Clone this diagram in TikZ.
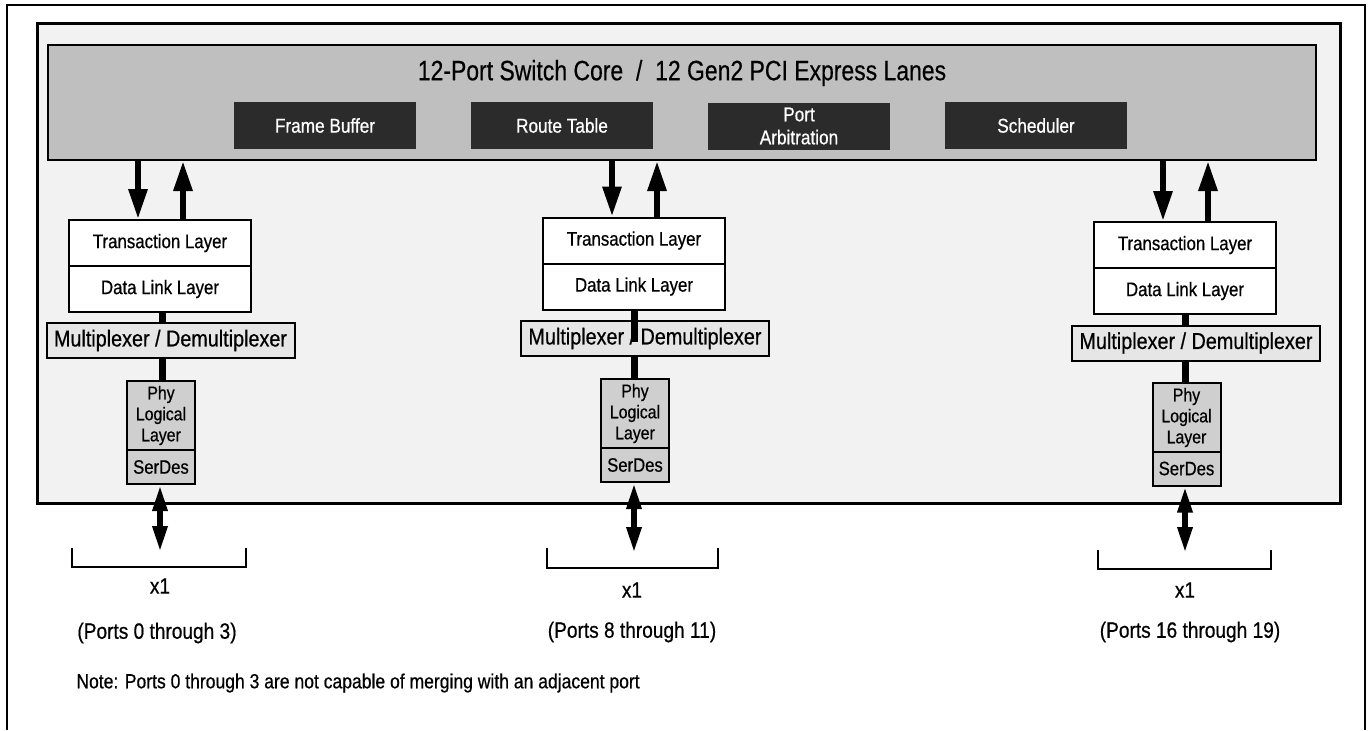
\documentclass[tikz,border=0pt]{standalone}
\usepackage{fontspec}
\setmainfont{Liberation Sans}[FakeStretch=0.86,FakeBold=0.6]
\newfontfamily\titlefont{Liberation Sans}[FakeStretch=0.82,FakeBold=0.4]
\usetikzlibrary{arrows.meta}
\definecolor{bgin}{HTML}{F2F2F2}
\definecolor{corec}{HTML}{BFBFBF}
\definecolor{darkc}{HTML}{2B2B2B}
\definecolor{muxc}{HTML}{E6E6E6}
\definecolor{phyc}{HTML}{CFCFCF}
\begin{document}
\begin{tikzpicture}[x=0.5pt,y=-0.5pt,
  box/.style={draw,line width=1pt,inner sep=0pt,align=center},
  tlbox/.style={box,fill=white,minimum width=91pt,minimum height=23pt,font=\fontsize{9.8}{11}\selectfont},
  muxbox/.style={box,fill=muxc,minimum width=124pt,minimum height=17.5pt,font=\fontsize{11.5}{13}\selectfont},
  phybox/.style={box,fill=phyc,minimum width=34pt,minimum height=34.5pt,font=\fontsize{9.2}{10.5}\selectfont},
  sdbox/.style={box,fill=phyc,minimum width=34pt,minimum height=17pt,font=\fontsize{9.7}{11}\selectfont},
  darkbox/.style={fill=darkc,text=white,inner sep=0pt,minimum width=91pt,minimum height=23.5pt,align=center,font=\fontsize{10}{11.5}\selectfont},
  busarr/.style={line width=3pt,-{Triangle[length=15pt,width=9pt]}},
  conn/.style={line width=3.5pt},
  dblarr/.style={line width=3pt,{Triangle[length=13pt,width=7pt]}-{Triangle[length=13pt,width=7pt]}},
  lbl/.style={inner sep=0pt,font=\fontsize{11.1}{12}\selectfont},
  brk/.style={line width=1pt}
]
\useasboundingbox (0,0) rectangle (1371,730);
% outer frame (open at bottom)
\draw[line width=1pt] (7,730) -- (7,5) -- (1365,5) -- (1365,730);
% chip area
\draw[line width=1.5pt,fill=bgin] (37,23) rectangle (1340,503);
% core
\node[box,fill=corec,minimum width=634pt,minimum height=57.5pt] (core) at (682,102.5) {};
\node[inner sep=0pt,font=\titlefont\fontsize{14}{16}\selectfont] (title) at (682,73) {12-Port Switch Core \ / \ 12 Gen2 PCI Express Lanes};
\node[darkbox] (fb) at (325,125.5) {Frame Buffer};
\node[darkbox] (rt) at (562,125.5) {Route Table};
\node[darkbox] (pa) at (799,126) {Port\\Arbitration};
\node[darkbox] (sc) at (1036,125.5) {Scheduler};

% ---------- left stack
\node[tlbox] (tl1) at (160,243) {Transaction Layer};
\node[tlbox] (dl1) at (160,289) {Data Link Layer};
\node[muxbox] (mx1) at (170.5,340.5) {Multiplexer / Demultiplexer};
\node[phybox] (ph1) at (161,415.5) {Phy\\Logical\\Layer};
\node[sdbox] (sd1) at (161,467) {SerDes};
\coordinate (d1) at (138,0);
\coordinate (u1) at (183,0);
\coordinate (c1) at (162,0);
\draw[busarr] (core.south -| d1) -- (tl1.north -| d1);
\draw[busarr] (tl1.north -| u1) -- (core.south -| u1);
\draw[conn] (dl1.south -| c1) -- (mx1.north -| c1);
\draw[conn] (mx1.south -| c1) -- (ph1.north -| c1);
\coordinate (e1) at (160,552);
\draw[dblarr] (sd1.south -| e1) -- (e1);
\draw[brk] (72,548) -- (72,567) -- (246,567) -- (246,548);
\node[lbl] (x1a) at (160,586) {x1};
\node[lbl] (p1) at (157,633) {(Ports 0 through 3)};

% ---------- middle stack
\node[tlbox] (tl2) at (634,240.5) {Transaction Layer};
\node[tlbox] (dl2) at (634,286.5) {Data Link Layer};
\node[muxbox] (mx2) at (645,338.5) {Multiplexer / Demultiplexer};
\node[phybox] (ph2) at (635,413.5) {Phy\\Logical\\Layer};
\node[sdbox] (sd2) at (635,465) {SerDes};
\coordinate (d2) at (612,0);
\coordinate (u2) at (657,0);
\coordinate (c2) at (634,0);
\coordinate (c2m) at (634,342);
\draw[busarr] (core.south -| d2) -- (tl2.north -| d2);
\draw[busarr] (tl2.north -| u2) -- (core.south -| u2);
\draw[conn] (dl2.south -| c2m) -- (c2m);
\draw[conn] (mx2.south -| c2) -- (ph2.north -| c2);
\coordinate (e2) at (634,553);
\draw[dblarr] (sd2.south -| e2) -- (e2);
\draw[brk] (547,548) -- (547,568) -- (718,568) -- (718,548);
\node[lbl] (x1b) at (632,590) {x1};
\node[lbl] (p2) at (632,632) {(Ports 8 through 11)};

% ---------- right stack
\node[tlbox] (tl3) at (1185,245) {Transaction Layer};
\node[tlbox] (dl3) at (1185,291) {Data Link Layer};
\node[muxbox] (mx3) at (1196,343) {Multiplexer / Demultiplexer};
\node[phybox] (ph3) at (1186.5,417.5) {Phy\\Logical\\Layer};
\node[sdbox] (sd3) at (1186.5,468.5) {SerDes};
\coordinate (d3) at (1163,0);
\coordinate (u3) at (1208,0);
\coordinate (c3) at (1185,0);
\draw[busarr] (core.south -| d3) -- (tl3.north -| d3);
\draw[busarr] (tl3.north -| u3) -- (core.south -| u3);
\draw[conn] (dl3.south -| c3) -- (mx3.north -| c3);
\draw[conn] (mx3.south -| c3) -- (ph3.north -| c3);
\coordinate (e3) at (1185,553);
\draw[dblarr] (sd3.south -| e3) -- (e3);
\draw[brk] (1098,550) -- (1098,569) -- (1271,569) -- (1271,550);
\node[lbl] (x1c) at (1185,590) {x1};
\node[lbl] (p3) at (1190,632) {(Ports 16 through 19)};

% note
\node[inner sep=0pt,anchor=west,font=\fontsize{10.2}{12}\selectfont] (note) at (76,683) {Note: Ports 0 through 3 are not capable of merging with an adjacent port};
\end{tikzpicture}
\end{document}
